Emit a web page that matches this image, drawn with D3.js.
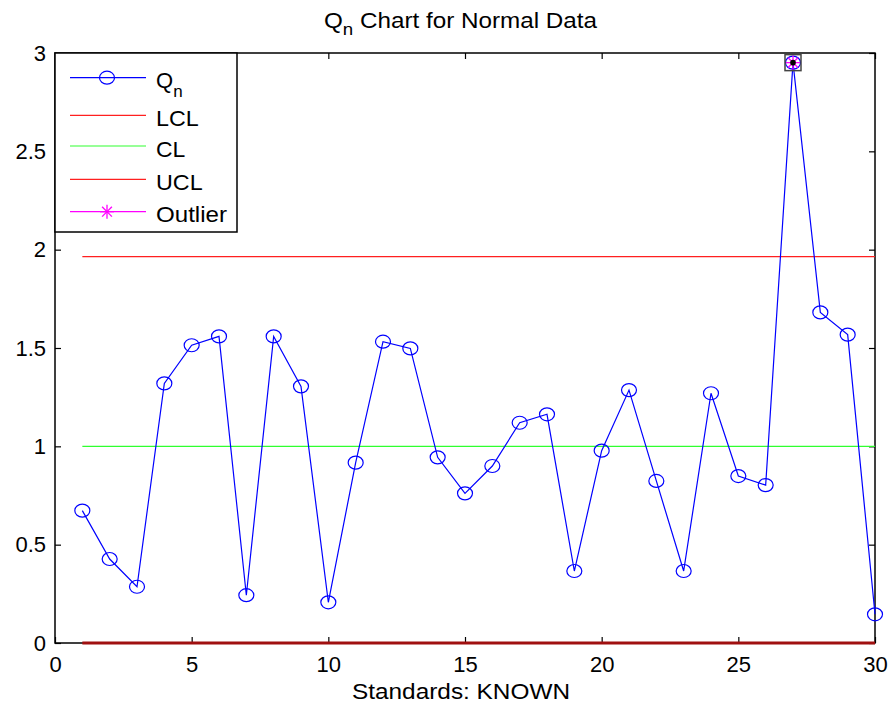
<!DOCTYPE html>
<html><head><meta charset="utf-8">
<script src="https://cdn.jsdelivr.net/npm/d3@7"></script>
<style>body{margin:0;background:#fff}svg{display:block;font-family:Arial,"Liberation Sans",sans-serif}</style>
</head><body><svg id="c" width="894" height="706"></svg>
<script>
const samples = d3.range(1, 31);
const qnValues = [0.673,0.427,0.286,1.320,1.514,1.559,0.243,1.559,1.305,0.207,
                  0.917,1.532,1.498,0.944,0.761,0.900,1.120,1.163,0.366,0.978,
                  1.286,0.824,0.366,1.270,0.849,0.803,2.951,1.681,1.568,0.146];
const LCL = 0, CL = 1.0, UCL = 1.965;
const outlierIdx = [27];
const xTicks = [0,5,10,15,20,25,30];
const yTicks = [0,0.5,1,1.5,2,2.5,3];
const legendLabels = ["Q","LCL","CL","UCL","Outlier"];

const svg = d3.select("#c");
const L=55, R=875, T=53, B=643;
const x = d3.scaleLinear().domain([0,30]).range([L,R]);
const y = d3.scaleLinear().domain([0,3]).range([B,T]);
const fs = 22;

// axes box
svg.append("rect").attr("x",L).attr("y",T).attr("width",R-L).attr("height",B-T)
  .attr("fill","none").attr("stroke","#000").attr("stroke-width",1.5);

function styleAxis(g){ g.select(".domain").remove(); g.selectAll("line").attr("stroke","#000").attr("stroke-width",1.2);
  g.selectAll("text").attr("font-size",fs).attr("fill","#000").attr("font-family","Arial, 'Liberation Sans', sans-serif"); }
svg.append("g").attr("transform",`translate(${L},0)`)
  .call(d3.axisLeft(y).tickValues(yTicks).tickFormat(d3.format("")).tickSize(-6).tickPadding(9)).call(styleAxis);
svg.append("g").attr("transform",`translate(0,${B})`)
  .call(d3.axisBottom(x).tickValues(xTicks).tickFormat(d3.format("")).tickSize(-6).tickPadding(13)).call(styleAxis);
svg.append("g").attr("transform",`translate(${R},0)`)
  .call(d3.axisRight(y).tickValues(yTicks).tickFormat("").tickSize(-6)).call(styleAxis);
svg.append("g").attr("transform",`translate(0,${T})`)
  .call(d3.axisTop(x).tickValues(xTicks).tickFormat("").tickSize(-6)).call(styleAxis);

// control lines
svg.append("line").attr("x1",x(1)).attr("x2",x(30)).attr("y1",y(UCL)).attr("y2",y(UCL)).attr("stroke","#ff2020").attr("stroke-width",1.2);
svg.append("line").attr("x1",x(1)).attr("x2",x(30)).attr("y1",y(CL)).attr("y2",y(CL)).attr("stroke","#30ff30").attr("stroke-width",1.2);
svg.append("line").attr("x1",x(1)).attr("x2",x(30)).attr("y1",y(LCL)).attr("y2",y(LCL)).attr("stroke","#a01010").attr("stroke-width",3);

// series
const pts = samples.map((s,i)=>({s, v:qnValues[i]}));
svg.append("path").datum(pts).attr("fill","none").attr("stroke","#0000ff").attr("stroke-width",1.2)
  .attr("d", d3.line().x(d=>x(d.s)).y(d=>y(d.v)));
svg.selectAll("ellipse.m").data(pts).enter().append("ellipse").attr("class","m")
  .attr("cx",d=>x(d.s)).attr("cy",d=>y(d.v)).attr("rx",7.5).attr("ry",6.5)
  .attr("fill","none").attr("stroke","#0000ff").attr("stroke-width",1.2);

// outlier markers
function asterisk(g, cx, cy, r, color){
  [[-r,0,r,0],[0,-r,0,r],[-r*0.7,-r*0.7,r*0.7,r*0.7],[-r*0.7,r*0.7,r*0.7,-r*0.7]].forEach(a=>
    g.append("line").attr("x1",cx+a[0]).attr("y1",cy+a[1]).attr("x2",cx+a[2]).attr("y2",cy+a[3]).attr("stroke",color).attr("stroke-width",1.3));
}
outlierIdx.forEach(s=>{
  const v = qnValues[s-1], cx=x(s), cy=y(v);
  svg.append("rect").attr("x",cx-8).attr("y",cy-8).attr("width",16).attr("height",16)
    .attr("fill","none").attr("stroke","#444").attr("stroke-width",1.5);
  asterisk(svg, cx, cy, 7, "#ff00ff");
  svg.append("circle").attr("cx",cx).attr("cy",cy).attr("r",2.8).attr("fill","#000");
});

// legend
const lg = svg.append("g");
lg.append("rect").attr("x",L).attr("y",T).attr("width",237-L).attr("height",232-T)
  .attr("fill","#fff").attr("stroke","#000").attr("stroke-width",1.5);
const legY = [77.7,115.3,146,179.3,211.7];
const legW = [null,42.7,29.3,46.7,71];
const legColors = ["#0000ff","#ff2020","#30ff30","#ff2020","#ff00ff"];
legendLabels.forEach((lab,i)=>{
  lg.append("line").attr("x1",70).attr("x2",146).attr("y1",legY[i]).attr("y2",legY[i]).attr("stroke",legColors[i]).attr("stroke-width",1.2);
  const t = lg.append("text").attr("x",156).attr("y",legY[i]+10.5).attr("font-size",fs).attr("fill","#000").text(lab);
  if(i===0){ t.append("tspan").attr("dy",9).attr("font-size",17).text("n"); }
  else { t.attr("textLength",legW[i]).attr("lengthAdjust","spacingAndGlyphs"); }
});
lg.append("ellipse").attr("cx",107).attr("cy",legY[0]).attr("rx",7.5).attr("ry",6.5).attr("fill","none").attr("stroke","#0000ff").attr("stroke-width",1.2);
asterisk(lg, 107, legY[4], 7, "#ff00ff");

// title and x label
const title = svg.append("text").attr("x",324).attr("y",28).attr("font-size",fs).attr("fill","#000")
  .attr("textLength",273).attr("lengthAdjust","spacingAndGlyphs");
title.append("tspan").text("Q");
title.append("tspan").attr("dy",7).attr("font-size",17).text("n");
title.append("tspan").attr("dy",-7).text(" Chart for Normal Data");
svg.append("text").attr("x",461).attr("y",699).attr("text-anchor","middle").attr("font-size",fs)
  .attr("textLength",218).attr("lengthAdjust","spacingAndGlyphs").attr("fill","#000").text("Standards: KNOWN");
</script></body></html>
